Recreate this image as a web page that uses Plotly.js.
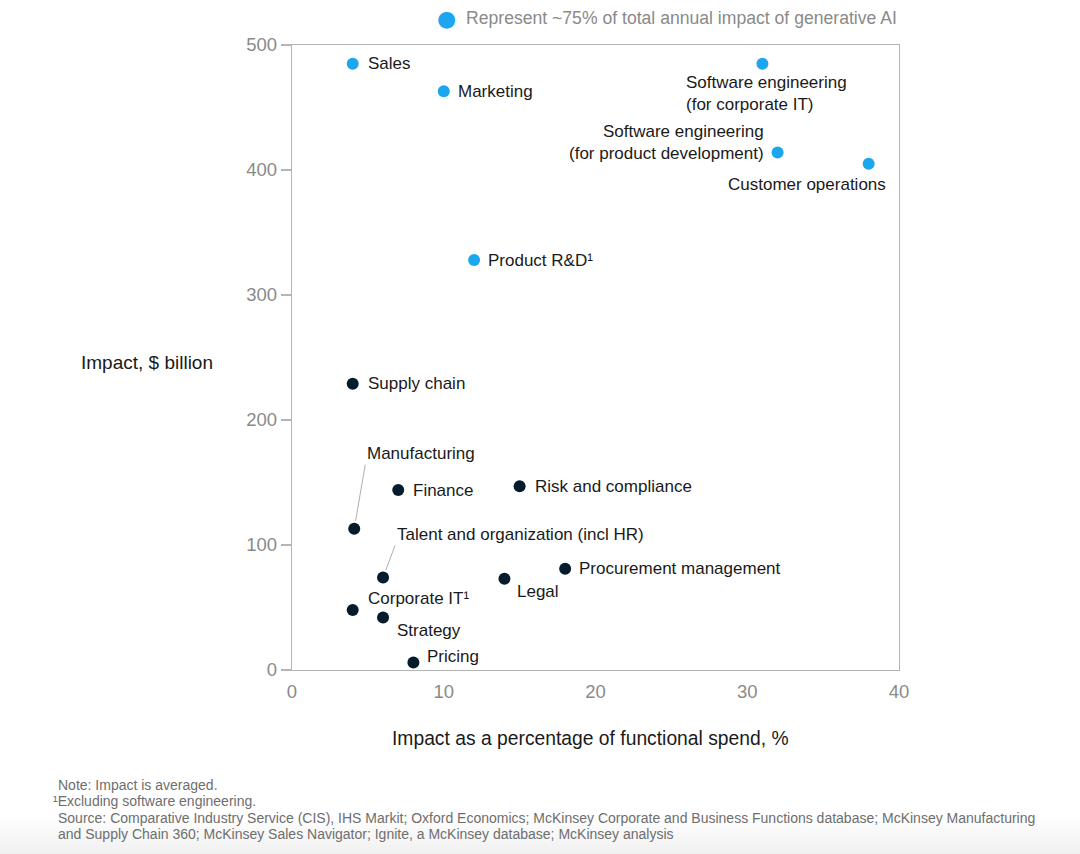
<!DOCTYPE html>
<html>
<head>
<meta charset="utf-8">
<script src="https://cdn.plot.ly/plotly-3.0.1.min.js"></script>
<style>
html,body{margin:0;padding:0;}
body{width:1080px;height:854px;background:linear-gradient(to bottom,#ffffff 0px,#ffffff 815px,#f0f0f0 854px);}
#chart{width:1080px;height:854px;}
</style>
</head>
<body>
<div id="chart"></div>
<script>
// Top-75% functions (blue)
const topNames = ["Sales", "Marketing", "Software engineering<br>(for corporate IT)", "Software engineering<br>(for product development)", "Customer operations", "Product R&D¹"];
const topPct = [4, 10, 31, 32, 38, 12];
const topImpact = [485, 463, 485, 414, 405, 328];

// Other functions (dark)
const otherNames = ["Supply chain", "Manufacturing", "Finance", "Risk and compliance", "Talent and organization (incl HR)", "Legal", "Procurement management", "Corporate IT¹", "Strategy", "Pricing"];
const otherPct = [4, 4.1, 7, 15, 6, 14, 18, 4, 6, 8];
const otherImpact = [229, 113, 144, 147, 74, 73, 81, 48, 42, 6];

const xTicks = [0, 10, 20, 30, 40];
const yTicks = [0, 100, 200, 300, 400, 500];

const legendText = "Represent ~75% of total annual impact of generative AI";
const xTitle = "Impact as a percentage of functional spend, %";
const yTitle = "Impact, $ billion";
const footnotes = [
  "Note: Impact is averaged.",
  "¹Excluding software engineering.",
  "Source: Comparative Industry Service (CIS), IHS Markit; Oxford Economics; McKinsey Corporate and Business Functions database; McKinsey Manufacturing",
  "and Supply Chain 360; McKinsey Sales Navigator; Ignite, a McKinsey database; McKinsey analysis"
];

const BLUE = "#1BA6EF";
const DARK = "#051C2C";
const FONT = "Liberation Sans, Arial, sans-serif";

// label placement styles (keyed by order of names)
const topLabelStyle = [
  {xanchor:"left", yanchor:"middle", xshift:13, yshift:0, align:"left"},
  {xanchor:"left", yanchor:"middle", xshift:12, yshift:0, align:"left"},
  {xanchor:"left", yanchor:"top", xshift:-78, yshift:-7, align:"left"},
  {xanchor:"right", yanchor:"middle", xshift:-12, yshift:10, align:"right"},
  {xanchor:"right", yanchor:"top", xshift:19, yshift:-9, align:"right"},
  {xanchor:"left", yanchor:"middle", xshift:12, yshift:0, align:"left"}
];
const otherLabelStyle = [
  {xanchor:"left", yanchor:"middle", xshift:13, yshift:0},
  {arrow:true, ax:11, ay:-64},
  {xanchor:"left", yanchor:"middle", xshift:13, yshift:0},
  {xanchor:"left", yanchor:"middle", xshift:13, yshift:0},
  {arrow:true, ax:12, ay:-32},
  {xanchor:"left", yanchor:"middle", xshift:11, yshift:-13},
  {xanchor:"left", yanchor:"middle", xshift:12, yshift:0},
  {xanchor:"left", yanchor:"middle", xshift:13, yshift:12},
  {xanchor:"left", yanchor:"middle", xshift:12, yshift:-13},
  {xanchor:"left", yanchor:"middle", xshift:12, yshift:6}
];

const traces = [
  {x: otherPct, y: otherImpact, mode:"markers", type:"scatter", name:"Other",
   marker:{color:DARK, size:12}, showlegend:false, hoverinfo:"skip", cliponaxis:false},
  {x: topPct, y: topImpact, mode:"markers", type:"scatter", name:legendText,
   marker:{color:BLUE, size:12}, showlegend:false, hoverinfo:"skip", cliponaxis:false}
];

const annotations = [];
function addLabels(names, xs, ys, styles){
  names.forEach((n,i)=>{
    const s = styles[i];
    if (s.arrow){
      annotations.push({x:xs[i], y:ys[i], xref:"x", yref:"y", text:n, showarrow:true,
        ax:s.ax, ay:s.ay, axref:"pixel", ayref:"pixel", arrowhead:0, arrowwidth:1, arrowcolor:"#b0b0b0",
        standoff:8, startstandoff:0, xanchor:"left", yanchor:"bottom",
        font:{family:FONT, size:17, color:"#1a1a1a"}});
    } else {
      annotations.push({x:xs[i], y:ys[i], xref:"x", yref:"y", text:n, showarrow:false,
        xanchor:s.xanchor, yanchor:s.yanchor, xshift:s.xshift, yshift:s.yshift, align:s.align||"left",
        font:{family:FONT, size:17, color:"#1a1a1a"}});
    }
  });
}
addLabels(topNames, topPct, topImpact, topLabelStyle);
addLabels(otherNames, otherPct, otherImpact, otherLabelStyle);

// legend
annotations.push({xref:"paper", yref:"paper", x:(446-292)/607, y:1+(45-18)/625, text:"●", showarrow:false,
  xanchor:"center", yanchor:"middle", font:{family:"DejaVu Sans", size:22, color:BLUE}});
annotations.push({xref:"paper", yref:"paper", x:(464-292)/607, y:1+(45-18)/625, text:legendText, showarrow:false,
  xanchor:"left", yanchor:"middle", font:{family:FONT, size:17.6, color:"#8a8a8a"}});
// y title
annotations.push({xref:"paper", yref:"paper", x:0, xshift:-77, y:(670-363)/625, text:yTitle, showarrow:false,
  xanchor:"right", yanchor:"middle", font:{family:FONT, size:19, color:"#1a1a1a"}});
// x title
annotations.push({xref:"paper", yref:"paper", x:(590-292)/607, y:(670-738)/625, text:xTitle, showarrow:false,
  xanchor:"center", yanchor:"middle", font:{family:FONT, size:19.3, color:"#1a1a1a"}});
// footnotes
const footY = [785, 801, 818, 834];
const footX = [56, 51, 56, 56];
footnotes.forEach((t,i)=>{
  annotations.push({xref:"paper", yref:"paper", x:(footX[i]-292)/607, y:(670-footY[i])/625, text:t, showarrow:false,
    xanchor:"left", yanchor:"middle", font:{family:"Liberation Sans Narrow, Arial Narrow, sans-serif", size:14, color:"#6e6e6e"}});
});

const layout = {
  width:1080, height:854,
  margin:{l:292, r:181, t:45, b:184},
  paper_bgcolor:"rgba(0,0,0,0)", plot_bgcolor:"rgba(0,0,0,0)",
  showlegend:false,
  xaxis:{range:[0,40], tickvals:xTicks, ticktext:xTicks.map(String), showgrid:false, zeroline:false,
    showline:true, mirror:true, linecolor:"#b4b4b4", linewidth:1.3, ticks:"",
    tickfont:{family:FONT, size:18.5, color:"#8a8a8a"}, ticklabelstandoff:4},
  yaxis:{range:[0,500], tickvals:yTicks, ticktext:yTicks.map(String), showgrid:false, zeroline:false,
    showline:true, mirror:true, linecolor:"#b4b4b4", linewidth:1.3, ticks:"outside", ticklen:10, tickcolor:"#b4b4b4", tickwidth:1.3,
    tickfont:{family:FONT, size:18.5, color:"#8a8a8a"}},
  annotations:annotations,
  font:{family:FONT}
};

Plotly.newPlot("chart", traces, layout, {staticPlot:true, displayModeBar:false});
</script>
</body>
</html>
